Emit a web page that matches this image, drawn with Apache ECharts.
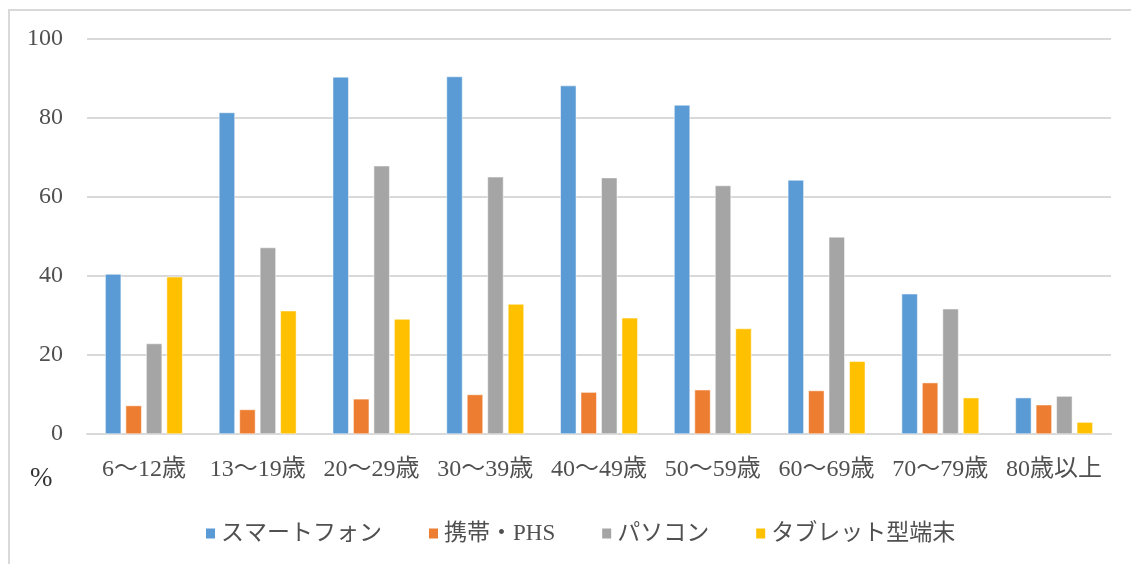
<!DOCTYPE html>
<html>
<head>
<meta charset="utf-8">
<script src="https://cdn.jsdelivr.net/npm/echarts@6/dist/echarts.min.js"></script>
<style>
html,body{margin:0;padding:0;background:#fff;}
#frame{position:absolute;left:8px;top:9px;width:1123px;height:555px;border-left:2px solid #d9d9d9;border-top:2px solid #d9d9d9;box-sizing:border-box;}
#chart{position:absolute;left:0;top:0;width:1131px;height:564px;}
</style>
</head>
<body>
<div id="frame"></div>
<div id="chart"></div>
<script>
const categories = ['6〜12歳','13〜19歳','20〜29歳','30〜39歳','40〜49歳','50〜59歳','60〜69歳','70〜79歳','80歳以上'];
const seriesNames = ['スマートフォン','携帯・PHS','パソコン','タブレット型端末'];
const smartphone = [40.5, 81.4, 90.4, 90.5, 88.2, 83.3, 64.3, 35.5, 9.2];
const mobilePHS  = [7.2, 6.2, 8.9, 10.0, 10.6, 11.2, 11.0, 13.0, 7.4];
const pc         = [22.9, 47.2, 67.9, 65.1, 64.9, 62.9, 49.9, 31.7, 9.6];
const tablet     = [39.8, 31.2, 29.1, 32.9, 29.4, 26.7, 18.4, 9.2, 3.0];
const yTicks = [0, 20, 40, 60, 80, 100];

const colors = ['#5B9BD5','#ED7D31','#A5A5A5','#FFC000'];
const font = "'Liberation Serif', 'Noto Sans CJK JP', serif";
const textColor = '#505050';
const values = [smartphone, mobilePHS, pc, tablet];

const chart = echarts.init(document.getElementById('chart'));
chart.setOption({
  backgroundColor: 'transparent',
  animation: false,
  color: colors,
  textStyle: {fontFamily: font},
  grid: {left: 87, right: 20, top: 39, bottom: 130, containLabel: false},
  graphic: [{type:'text', left: 30, top: 465, style:{text:'%', fontSize: 27, fontFamily: font, fill:'#333333'}}],
  legend: {
    left: 199, top: 517, itemWidth: 11, itemHeight: 12, itemGap: 45,
    icon: 'rect',
    textStyle: {fontSize: 23, color: textColor, fontFamily: font},
    data: seriesNames
  },
  xAxis: {
    type: 'category', data: categories,
    axisLine: {show: true, lineStyle: {color: '#d9d9d9', width: 2}},
    axisTick: {show: false},
    axisLabel: {fontSize: 24, color: textColor, margin: 24, fontFamily: font, interval: 0}
  },
  yAxis: {
    type: 'value', min: 0, max: 100, interval: 20,
    axisLine: {show: false}, axisTick: {show: false},
    splitLine: {lineStyle: {color: '#d9d9d9', width: 2}},
    axisLabel: {fontSize: 24, color: textColor, margin: 24, fontFamily: font,
      formatter: v => yTicks.includes(v) ? String(v) : ''}
  },
  series: values.map((d, i) => ({
    name: seriesNames[i], type: 'bar', data: d,
    barWidth: 16, barGap: '28%',
    itemStyle: {color: colors[i], borderColor: '#fff', borderWidth: 0.5}
  }))
});
</script>
</body>
</html>
